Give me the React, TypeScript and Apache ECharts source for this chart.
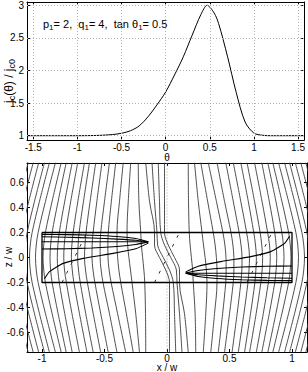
import React, { useEffect, useRef } from "react";
import * as echarts from "echarts";

// ---- top panel data ----
const THETA = [-1.5708, -1.2, -1.0, -0.8, -0.7, -0.6, -0.5, -0.4, -0.3, -0.2, -0.1, 0, 0.1, 0.2, 0.3, 0.4, 0.47, 0.55, 0.6, 0.7, 0.8, 0.9, 1.0, 1.1, 1.2, 1.5708];
const JC = [1, 1, 1, 1.003, 1.008, 1.018, 1.037, 1.075, 1.15, 1.29, 1.47, 1.67, 1.93, 2.21, 2.54, 2.86, 3.0, 2.88, 2.72, 2.22, 1.66, 1.21, 1.04, 1.006, 1, 1];
const TOP_X_TICKS = [-1.5, -1, -0.5, 0, 0.5, 1, 1.5];
const TOP_Y_TICKS = [1, 1.5, 2, 2.5, 3];

// ---- bottom panel data ----
const BOT_X_TICKS = [-1, -0.5, 0, 0.5, 1];
const BOT_Y_TICKS = [-0.6, -0.4, -0.2, 0, 0.2, 0.4, 0.6];
// heights (z/w) at which each field line's x/w is listed
const Z_LEVELS = [0.76, 0.45, 0.2, 0.1, 0, -0.1, -0.2, -0.45, -0.76];
// left-half field lines (x/w at each level); right half is their point reflection
const FIELD_LEFT = [
  [-1.11, -1.19, -1.249, -1.264, -1.27, -1.264, -1.249, -1.19, -1.11],
  [-1.07, -1.15, -1.209, -1.224, -1.23, -1.224, -1.209, -1.15, -1.07],
  [-1.026, -1.106, -1.165, -1.18, -1.186, -1.18, -1.165, -1.106, -1.026],
  [-0.98, -1.06, -1.119, -1.134, -1.14, -1.134, -1.119, -1.06, -0.98],
  [-0.94, -1.02, -1.079, -1.094, -1.1, -1.094, -1.079, -1.02, -0.94],
  [-0.892, -0.972, -1.031, -1.046, -1.052, -1.046, -1.031, -0.972, -0.892],
  [-0.846, -0.919, -0.973, -0.986, -0.992, -0.986, -0.973, -0.919, -0.846],
  [-0.806, -0.871, -0.919, -0.931, -0.936, -0.931, -0.919, -0.871, -0.806],
  [-0.758, -0.818, -0.862, -0.873, -0.878, -0.873, -0.862, -0.818, -0.758],
  [-0.714, -0.77, -0.811, -0.822, -0.826, -0.82, -0.805, -0.76, -0.7],
  [-0.66, -0.713, -0.751, -0.761, -0.765, -0.758, -0.745, -0.7, -0.64],
  [-0.62, -0.668, -0.703, -0.711, -0.715, -0.708, -0.694, -0.65, -0.59],
  [-0.57, -0.615, -0.648, -0.656, -0.66, -0.652, -0.637, -0.59, -0.53],
  [-0.52, -0.561, -0.591, -0.599, -0.6, -0.592, -0.577, -0.53, -0.47],
  [-0.46, -0.5, -0.53, -0.535, -0.535, -0.527, -0.512, -0.46, -0.4],
  [-0.41, -0.445, -0.47, -0.473, -0.472, -0.463, -0.447, -0.395, -0.33],
  [-0.35, -0.38, -0.4, -0.4, -0.395, -0.385, -0.37, -0.325, -0.27],
  [-0.29, -0.31, -0.32, -0.315, -0.305, -0.292, -0.28, -0.25, -0.22],
  [-0.23, -0.225, -0.21, -0.205, -0.195, -0.185, -0.178, -0.172, -0.17],
  [-0.17, -0.14, -0.1, -0.1, -0.06, -0.01, 0.02, 0.02, 0.02],
  [-0.12, -0.1, -0.08, -0.075, -0.03, 0.02, 0.05, 0.06, 0.07],
];
// strip outline
const STRIP = [[-1, 0.2], [1, 0.2], [1, -0.2], [-1, -0.2], [-1, 0.2]];
// flux-front contour lines inside the strip (upper-left group); lower-right is the point reflection
const FRONT_LEFT = [
  [[-1, 0.185], [-0.8, 0.183], [-0.6, 0.178], [-0.4, 0.168], [-0.25, 0.152], [-0.15, 0.125]],
  [[-1, 0.166], [-0.8, 0.162], [-0.6, 0.156], [-0.4, 0.147], [-0.25, 0.138], [-0.15, 0.125]],
  [[-1, 0.126], [-0.6, 0.126], [-0.3, 0.126], [-0.15, 0.125]],
  [[-1, 0.068], [-0.8, 0.07], [-0.6, 0.076], [-0.4, 0.088], [-0.25, 0.104], [-0.15, 0.125]],
  [[-0.98, -0.17], [-0.94, -0.113], [-0.83, -0.047], [-0.67, -0.007], [-0.43, 0.033], [-0.25, 0.07], [-0.15, 0.115]],
];
const DASHED = [
  [[-0.84, -0.2], [-0.64, 0.2]],
  [[-0.1, -0.2], [0.1, 0.2]],
  [[0.64, -0.2], [0.84, 0.2]],
];

const FONT = "'Liberation Sans', Arial, Helvetica, sans-serif";

const reflectLevels = (xs: number[]) => xs.slice().reverse().map((v) => -v);
const toPts = (xs: number[]) => xs.map((x, i) => [x, Z_LEVELS[i]]);
const reflectPts = (pts: number[][]) => pts.map(([x, z]) => [-x, -z]);

function axisCommon(ticks: number[], showLabel: boolean, margin = 3) {
  return {
    type: "value",
    axisLine: { show: true, onZero: false, lineStyle: { color: "#000", width: 1 } },
    axisTick: { show: true, inside: true, length: 3, customValues: ticks, lineStyle: { color: "#000" } },
    axisLabel: { show: showLabel, customValues: ticks, fontSize: 10, lineHeight: 10, color: "#000", fontFamily: FONT, margin },
    splitLine: { show: false },
  } as any;
}

export default function App() {
  const ref = useRef<HTMLDivElement>(null);
  useEffect(() => {
    if (!ref.current) return;
    const chart = echarts.init(ref.current, undefined, { renderer: "svg" });
    const fieldColor = "#3c3c3c";
    const series: any[] = [];
    series.push({
      type: "line",
      xAxisIndex: 0,
      yAxisIndex: 0,
      data: THETA.map((t, i) => [t, JC[i]]),
      showSymbol: false,
      smooth: 0.3,
      lineStyle: { color: "#000", width: 1 },
      z: 3,
      markLine: {
        silent: true,
        symbol: ["none", "none"],
        label: { show: false },
        lineStyle: { type: [1, 2], color: "#b4b4b4", width: 1 },
        data: [...TOP_X_TICKS.map((v) => ({ xAxis: v })), ...TOP_Y_TICKS.map((v) => ({ yAxis: v }))],
      },
    });
    const addLine = (pts: number[][], style: any, smooth: any = 0.35) => {
      series.push({
        type: "line",
        xAxisIndex: 2,
        yAxisIndex: 2,
        data: pts,
        showSymbol: false,
        smooth,
        clip: true,
        lineStyle: style,
      });
    };
    addLine([[0, -0.76], [0, 0.76]], { type: [1, 2], color: "#aaa", width: 1 }, false);
    FIELD_LEFT.forEach((xs) => {
      addLine(toPts(xs), { color: fieldColor, width: 0.9 });
      addLine(toPts(reflectLevels(xs)), { color: fieldColor, width: 0.9 });
    });
    DASHED.forEach((pts) => addLine(pts, { color: "#333", width: 1, type: [3, 7] }, false));
    FRONT_LEFT.forEach((pts) => {
      addLine(pts, { color: "#000", width: 1.1 }, 0.2);
      addLine(reflectPts(pts), { color: "#000", width: 1.1 }, 0.2);
    });
    addLine(STRIP, { color: "#000", width: 1.3 }, false);

    const option: any = {
      animation: false,
      grid: [
        { left: 27, top: 2, width: 280, height: 138 },
        { left: 27, top: 163, width: 280, height: 189 },
      ],
      xAxis: [
        { ...axisCommon(TOP_X_TICKS, true, 2), gridIndex: 0, position: "bottom", min: -1.5708, max: 1.5708 },
        { ...axisCommon(TOP_X_TICKS, false), gridIndex: 0, position: "top", min: -1.5708, max: 1.5708 },
        { ...axisCommon(BOT_X_TICKS, true, 1), gridIndex: 1, position: "bottom", min: -1.12, max: 1.12 },
        { ...axisCommon(BOT_X_TICKS, false), gridIndex: 1, position: "top", min: -1.12, max: 1.12 },
      ],
      yAxis: [
        { ...axisCommon(TOP_Y_TICKS, true), gridIndex: 0, position: "left", min: 0.934, max: 3.05 },
        { ...axisCommon(TOP_Y_TICKS, false), gridIndex: 0, position: "right", min: 0.934, max: 3.05 },
        { ...axisCommon(BOT_Y_TICKS, true), gridIndex: 1, position: "left", min: -0.756, max: 0.756 },
        { ...axisCommon(BOT_Y_TICKS, false), gridIndex: 1, position: "right", min: -0.756, max: 0.756 },
      ],
      series,
      graphic: [
        {
          type: "text",
          x: 43,
          y: 24,
          style: {
            text: "{n|p}{s|1}{n|= 2,  q}{s|1}{n|= 4,  tan θ}{s|1}{n|= 0.5}",
            verticalAlign: "middle",
            rich: {
              n: { fontSize: 11, fontFamily: FONT, fill: "#000", lineHeight: 14 },
              s: { fontSize: 8, fontFamily: FONT, fill: "#000", lineHeight: 4, verticalAlign: "bottom" },
            },
          },
        },
        {
          type: "text",
          x: 9,
          y: 81,
          rotation: Math.PI / 2,
          style: {
            text: "{n|j}{s|c}{n|(θ) / j}{s|c0}",
            align: "center",
            verticalAlign: "middle",
            rich: {
              n: { fontSize: 12, fontFamily: FONT, fill: "#000", lineHeight: 14 },
              s: { fontSize: 9, fontFamily: FONT, fill: "#000", lineHeight: 4, verticalAlign: "bottom" },
            },
          },
        },
        {
          type: "text",
          x: 167,
          y: 157,
          style: { text: "θ", align: "center", verticalAlign: "middle", fontSize: 10, lineHeight: 10, fontFamily: FONT, fill: "#000" },
        },
        {
          type: "text",
          x: 167,
          y: 367.5,
          style: { text: "x / w", align: "center", verticalAlign: "middle", fontSize: 10, lineHeight: 9, fontFamily: FONT, fill: "#000" },
        },
        {
          type: "text",
          x: 8,
          y: 257,
          rotation: Math.PI / 2,
          style: { text: "z / w", align: "center", verticalAlign: "middle", fontSize: 10, fontFamily: FONT, fill: "#000" },
        },
      ],
    };
    chart.setOption(option);
    return () => chart.dispose();
  }, []);
  return <div ref={ref} style={{ width: 308, height: 372, position: "absolute", left: 0, top: 0, background: "#fff" }} />;
}
